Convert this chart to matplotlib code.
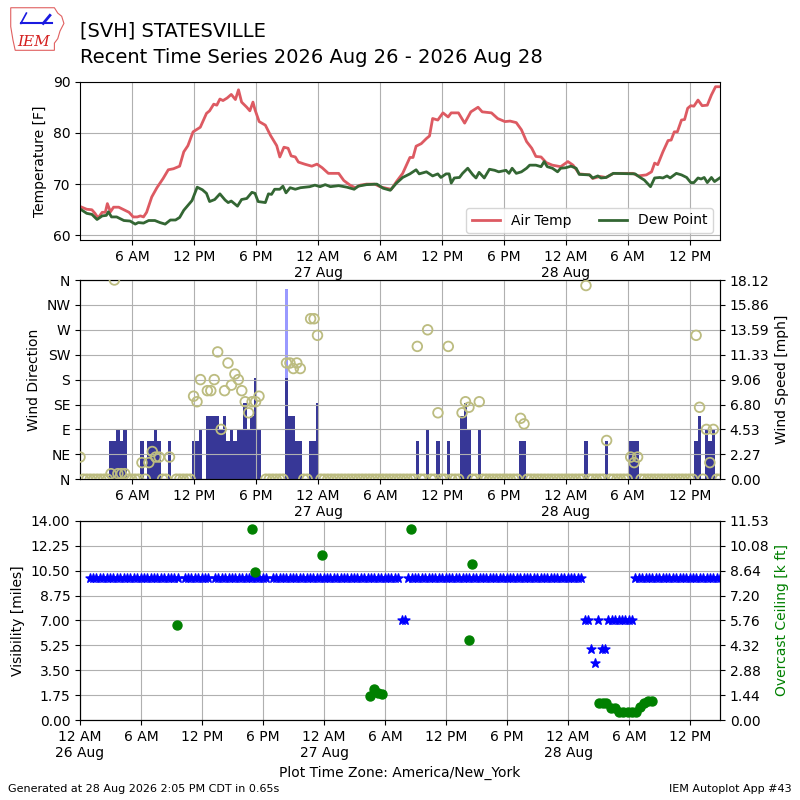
import numpy as np
import matplotlib
matplotlib.use("Agg")
import matplotlib.pyplot as plt
from matplotlib.patches import Polygon

nan = np.nan

# ---------------- data (hours since 2026-08-26 00:00 America/New_York) -------------
temp_hours = [1.0, 1.6, 2.1, 2.4, 2.7, 3.1, 3.4, 3.6, 3.9, 4.2, 4.7, 5.2, 5.7, 6.1, 6.5,
              6.8, 7.1, 7.4, 7.9, 8.4, 9.0, 9.5, 10.0, 10.6, 11.0, 11.4, 11.9, 12.6, 13.2,
              13.5, 13.9, 14.2, 14.5, 14.8, 15.2, 15.6, 16.0, 16.3, 16.6, 17.1, 17.4, 17.7,
              17.9, 18.3, 18.9, 19.4, 20.0, 20.3, 20.7, 21.1, 21.4, 21.8, 22.1, 22.7, 23.4,
              23.9, 24.4, 25.0, 26.0, 26.5, 27.1, 27.6, 28.1, 28.7, 29.5, 30.0, 30.6, 31.1,
              31.6, 32.2, 32.9, 33.2, 33.5, 34.0, 34.5, 34.8, 35.1, 35.6, 36.1, 36.6, 36.9,
              37.6, 38.2, 38.8, 39.5, 39.9, 40.8, 41.4, 42.1, 42.6, 43.2, 43.7, 44.2, 44.7,
              45.1, 45.6, 46.1, 46.7, 47.5, 48.2, 48.7, 49.3, 50.3, 50.6, 51.3, 51.9, 52.6,
              54.5, 55.0, 55.8, 56.3, 56.6, 56.9, 57.4, 57.9, 58.2, 58.5, 58.8, 59.2, 59.5,
              59.8, 60.1, 60.4, 60.8, 61.2, 61.7, 62.1, 62.5, 62.9]
temp_f = [65.6, 65.1, 65.0, 64.3, 63.4, 64.5, 64.5, 66.2, 64.6, 65.5, 65.5, 65.0, 64.5, 63.6, 63.6,
          63.8, 63.6, 64.5, 67.5, 69.3, 71.1, 72.8, 73.0, 73.5, 76.3, 77.5, 80.2, 81.1, 83.8,
          84.3, 85.6, 85.4, 86.6, 86.3, 86.8, 87.5, 86.5, 88.4, 86.0, 85.0, 84.3, 86.0,
          84.5, 82.2, 81.5, 79.5, 77.5, 75.3, 77.2, 77.0, 75.5, 75.3, 74.3, 73.9, 73.5,
          73.9, 73.2, 72.1, 72.1, 70.7, 69.8, 69.3, 69.8, 70.0, 70.0, 69.5, 69.2, 69.0,
          70.5, 72.1, 75.2, 75.2, 77.4, 77.9, 78.9, 79.4, 82.8, 82.5, 83.9, 83.1, 83.9,
          83.9, 81.9, 84.1, 85.0, 84.1, 83.9, 82.8, 82.2, 82.3, 82.0, 80.6, 78.3, 77.0,
          75.4, 75.3, 74.2, 73.7, 73.4, 74.4, 73.7, 72.0, 71.8, 71.1, 71.5, 71.3, 72.1,
          72.1, 71.6, 71.8, 72.4, 74.1, 73.8, 76.3, 78.5, 78.6, 80.2, 80.2, 82.5, 82.6,
          84.8, 85.3, 85.2, 86.4, 85.3, 85.4, 87.4, 89.0, 89.0]

dew_hours = [1.0, 1.6, 2.1, 2.6, 3.1, 3.5, 3.7, 4.0, 4.5, 5.2, 5.8, 6.3, 6.6, 7.1, 7.6, 8.2,
             8.7, 9.2, 9.7, 10.2, 10.6, 11.0, 11.5, 11.8, 12.3, 12.8, 13.2, 13.5, 14.0, 14.5,
             15.0, 15.3, 15.6, 16.2, 16.6, 17.1, 17.6, 17.9, 18.2, 18.9, 19.2, 19.5, 19.8,
             20.3, 20.6, 20.9, 21.3, 21.8, 22.3, 23.2, 23.7, 24.2, 24.7, 25.2, 26.0, 26.8,
             27.5, 27.9, 28.7, 29.7, 30.3, 31.0, 31.6, 32.2, 32.9, 33.5, 33.8, 34.5, 35.1,
             35.6, 35.9, 36.4, 36.7, 36.9, 37.2, 37.7, 38.0, 38.5, 39.0, 39.3, 39.6, 40.1,
             40.6, 41.1, 41.5, 42.2, 42.5, 42.8, 43.2, 43.7, 44.2, 44.5, 45.1, 45.6, 45.9,
             46.2, 46.7, 47.2, 47.5, 48.0, 48.5, 49.0, 49.3, 50.3, 50.6, 51.1, 51.4, 51.9,
             52.6, 54.7, 55.2, 55.6, 56.2, 56.6, 57.1, 57.4, 57.8, 58.1, 58.7, 59.2, 59.7,
             60.1, 60.4, 60.8, 61.1, 61.4, 61.7, 62.1, 62.4, 62.9]
dewp_f = [65.1, 64.3, 64.1, 63.1, 63.8, 63.9, 64.6, 63.6, 63.6, 62.9, 62.8, 62.2, 62.5, 62.4, 62.9, 62.9,
          62.5, 62.2, 63.0, 63.0, 63.5, 64.9, 66.1, 66.8, 69.4, 68.9, 68.2, 66.6, 67.0, 68.1,
          66.9, 66.4, 66.7, 65.7, 67.0, 67.2, 68.4, 68.2, 66.6, 66.4, 68.1, 68.0, 69.0,
          69.0, 69.6, 68.3, 69.3, 69.0, 69.3, 69.5, 69.8, 69.5, 69.9, 69.5, 69.7, 69.4,
          69.0, 69.6, 69.9, 70.0, 69.2, 68.8, 70.2, 71.3, 72.0, 72.8, 72.0, 72.4, 71.6,
          72.0, 71.3, 72.0, 72.0, 70.2, 71.2, 71.3, 72.1, 73.1, 71.8, 71.2, 72.3, 71.2,
          72.9, 72.7, 72.4, 72.7, 72.1, 73.1, 72.1, 72.4, 73.1, 73.7, 73.7, 73.4, 74.4,
          73.4, 73.1, 72.4, 73.1, 73.2, 73.5, 73.1, 71.9, 71.8, 71.2, 71.6, 71.2, 71.3,
          72.1, 72.0, 71.3, 70.8, 69.5, 71.2, 71.3, 71.2, 71.6, 71.2, 72.1, 71.8, 71.3,
          70.3, 70.3, 71.2, 71.0, 71.3, 70.3, 71.3, 70.5, 71.2]

# 20-minute observations, first at 00:57 Aug 26
obs_first_hour = 0.95
obs_step_hour = 1.0 / 3.0

wind_dir_deg = [
    40, 0, 0, 0, 0, 0, 0, 0, 0, 10,
    360, 10, 10, 10, 0, 0, 0, 0, 30, 0,
    30, 50, 40, 40, 0, 0, 40, nan, 0, 0,
    0, 0, 0, 150, 140, 180, nan, 160, 160, 180,
    230, 90, 160, 210, 170, 190, 180, 160, 140, 120,
    140, 140, 150, nan, 0, 0, 0, 0, 0, 0,
    210, 210, 200, 210, 200, 0, 0, 290, 290, 260,
    0, 0, 0, 0, 0, 0, 0, 0, 0, 0,
    0, 0, 0, 0, 0, 0, 0, 0, 0, 0,
    0, 0, 0, 0, 0, 0, 0, 0, 240, 0,
    0, 270, 0, 0, 120, 0, 0, 240, 0, 0,
    0, 120, 140, 130, 0, 0, 140, 0, 0, 0,
    0, 0, 0, 0, 0, 0, 0, 0, 110, 100,
    0, 0, 0, 0, 0, 0, 0, 0, 0, 0,
    0, 0, 0, 0, 0, 0, 0, 350, 0, 0,
    0, 0, 0, 70, 0, 0, 0, 0, 0, 0,
    40, 30, 40, 0, 0, 0, 0, 0, 0, 0,
    0, 0, 0, 0, 0, 0, 0, 0, 0, 260,
    130, 0, 90, 30, 90, 0, 0]

wind_speed_kt = [
    0, 0, 0, 0, 0, 0, 0, 0, 0, 3,
    3, 4, 3, 4, 0, 0, 0, 0, 3, 0,
    3, 3, 4, 3, 0, 0, 3, nan, 0, 0,
    0, 0, 0, 3, 3, 4, nan, 5, 5, 5,
    5, 4, 5, 3, 4, 3, 4, 4, 6, 4,
    5, 8, 4, nan, 0, 0, 0, 0, 0, 0,
    8, 5, 5, 3, 3, 0, 0, 3, 3, 6,
    0, 0, 0, 0, 0, 0, 0, 0, 0, 0,
    0, 0, 0, 0, 0, 0, 0, 0, 0, 0,
    0, 0, 0, 0, 0, 0, 0, 0, 3, 0,
    0, 4, 0, 0, 3, 0, 0, 3, 0, 0,
    0, 5, 6, 4, 0, 0, 4, 0, 0, 0,
    0, 0, 0, 0, 0, 0, 0, 0, 3, 3,
    0, 0, 0, 0, 0, 0, 0, 0, 0, 0,
    0, 0, 0, 0, 0, 0, 0, 3, 0, 0,
    0, 0, 0, 3, 0, 0, 0, 0, 0, 0,
    3, 3, 3, 0, 0, 0, 0, 0, 0, 0,
    0, 0, 0, 0, 0, 0, 0, 0, 0, 3,
    5, 0, 4, 3, 4, 0, 0]

gust_obs_index = [60]
gust_kt = [15]

vis_miles = [
    10, 10, 10, 10, 10, 10, 10, 10, 10, 10,
    10, 10, 10, 10, 10, 10, 10, 10, 10, 10,
    10, 10, 10, 10, 10, 10, 10, nan, 10, 10,
    10, 10, 10, 10, 10, 10, nan, 10, 10, 10,
    10, 10, 10, 10, 10, 10, 10, 10, 10, 10,
    10, 10, 10, nan, 10, 10, 10, 10, 10, 10,
    10, 10, 10, 10, 10, 10, 10, 10, 10, 10,
    10, 10, 10, 10, 10, 10, 10, 10, 10, 10,
    10, 10, 10, 10, 10, 10, 10, 10, 10, 10,
    10, 10, 7, 7, 10, 10, 10, 10, 10, 10,
    10, 10, 10, 10, 10, 10, 10, 10, 10, 10,
    10, 10, 10, 10, 10, 10, 10, 10, 10, 10,
    10, 10, 10, 10, 10, 10, 10, 10, 10, 10,
    10, 10, 10, 10, 10, 10, 10, 10, 10, 10,
    10, 10, 10, 10, 10, 10, 7, 7, 5, 4,
    7, 5, 5, 7, 7, 7, 7, 7, 7, 7,
    7, 10, 10, 10, 10, 10, 10, 10, 10, 10,
    10, 10, 10, 10, 10, 10, 10, 10, 10, 10,
    10, 10, 10, 10, 10, 10, 10]

ceil_hours = [9.54, 16.87, 17.17, 23.83, 28.52, 28.87, 29.26, 29.66, 32.55, 38.21, 38.50,
              51.06, 51.39, 51.72, 52.21, 52.64, 53.03, 53.42, 53.85, 54.24, 54.67, 55.06,
              55.49, 55.81, 56.24]
ceil_kft = [5.48, 11.04, 8.54, 9.55, 1.37, 1.79, 1.55, 1.50, 11.04, 4.61, 9.03,
            0.97, 0.97, 0.97, 0.68, 0.68, 0.48, 0.48, 0.48, 0.48, 0.48, 0.77,
            0.97, 1.10, 1.10]

dir_labels = ['N', 'NE', 'E', 'SE', 'S', 'SW', 'W', 'NW', 'N']
KT2MPH = 1.15078

# ---------------- derived ----------------
n_obs = len(vis_miles)
obs_hours = obs_first_hour + np.arange(n_obs) * obs_step_hour
wind_dir = np.array(wind_dir_deg, dtype=float)
speed_mph = np.array(wind_speed_kt, dtype=float) * KT2MPH
gust_hours = obs_hours[gust_obs_index]
gust_mph = np.array(gust_kt, dtype=float) * KT2MPH
vis = np.array(vis_miles, dtype=float)

x_end = obs_hours[-1] - 0.02
BAR_W = 0.34


def tick_label(h):
    hh = int(h) % 24
    day = 26 + int(h) // 24
    if hh == 0:
        return "12 AM\n%d Aug" % day
    return {6: "6 AM", 12: "12 PM", 18: "6 PM"}[hh]


top_ticks = list(range(6, 61, 6))
bot_ticks = list(range(0, 61, 6))

fig = plt.figure(figsize=(8, 8), dpi=100)

# ---------------- header ----------------
fig.text(0.1, 0.954, "[SVH] STATESVILLE", fontsize=14, va='baseline', ha='left')
fig.text(0.1, 0.921, "Recent Time Series 2026 Aug 26 - 2026 Aug 28", fontsize=14,
         va='baseline', ha='left')

logo = fig.add_axes([0.012, 0.936, 0.07, 0.056])
logo.set_xlim(0, 1)
logo.set_ylim(0, 1)
logo.axis('off')
logo.add_patch(Polygon([[0.02, 0.97], [0.80, 0.97], [0.86, 0.85], [0.93, 0.78], [0.97, 0.62],
                        [0.90, 0.45], [0.86, 0.28], [0.80, 0.18], [0.80, 0.02], [0.10, 0.02],
                        [0.06, 0.25], [0.02, 0.55]], closed=True, fill=False,
                       edgecolor='#e06060', lw=0.8))
logo.plot([0.2, 0.75], [0.62, 0.62], color='#1a1ae0', lw=1.5)
logo.plot([0.2, 0.3], [0.62, 0.85], color='#1a1ae0', lw=1.2)
logo.plot([0.6, 0.72], [0.62, 0.8], color='#1a1ae0', lw=2.0)
logo.text(0.42, 0.2, "IEM", color='#d42020', fontsize=11, style='italic',
          family='DejaVu Serif', ha='center', va='center')

# ---------------- top: temperature ----------------
ax1 = fig.add_axes([0.1, 0.7, 0.8, 0.198])
ax1.plot(temp_hours, temp_f, color='#dd5a62', lw=2, label='Air Temp')
ax1.plot(dew_hours, dewp_f, color='#336633', lw=2, label='Dew Point')
ax1.set_ylim(59.1, 90)
ax1.set_yticks([60, 70, 80, 90])
ax1.set_xlim(obs_first_hour, x_end)
ax1.set_xticks(top_ticks)
ax1.set_xticklabels([tick_label(h) for h in top_ticks])
ax1.grid(True)
ax1.set_ylabel("Temperature [F]")
ax1.legend(loc='lower right', ncol=2)

# ---------------- middle: wind ----------------
ax2 = fig.add_axes([0.1, 0.401, 0.8, 0.249])
ax2b = ax2.twinx()
ax2b.bar(gust_hours, gust_mph, width=BAR_W, color='#9999ff')
ok = np.isfinite(speed_mph) & (speed_mph > 0)
ax2b.bar(obs_hours[ok], speed_mph[ok], width=BAR_W, color='#373797')
okd = np.isfinite(wind_dir)
ax2.scatter(obs_hours[okd], wind_dir[okd], s=48, facecolors='none',
            edgecolors='#bcbc80', linewidths=1.3, zorder=3)
ax2.set_zorder(ax2b.get_zorder() + 1)
ax2.patch.set_visible(False)
ax2.set_ylim(0, 360)
ax2.set_yticks(range(0, 361, 45))
ax2.set_yticklabels(dir_labels)
spd_max = 18.1235
ax2b.set_ylim(0, spd_max)
sp_ticks = np.linspace(0, spd_max, 9)
ax2b.set_yticks(sp_ticks)
ax2b.set_yticklabels(["%.2f" % v for v in sp_ticks])
ax2.set_xlim(obs_first_hour, x_end)
ax2.set_xticks(top_ticks)
ax2.set_xticklabels([tick_label(h) for h in top_ticks])
ax2.grid(True)
ax2.set_ylabel("Wind Direction")
ax2b.set_ylabel("Wind Speed [mph]")

# ---------------- bottom: visibility / ceiling ----------------
ax3 = fig.add_axes([0.1, 0.1, 0.8, 0.249])
ax3b = ax3.twinx()
okv = np.isfinite(vis)
ax3.scatter(obs_hours[okv], vis[okv], marker='*', s=45, color='b', zorder=3)
ax3b.scatter(ceil_hours, ceil_kft, marker='o', s=42, color='g')
ax3.set_ylim(0, 14)
v_ticks = np.linspace(0, 14, 9)
ax3.set_yticks(v_ticks)
ax3.set_yticklabels(["%.2f" % v for v in v_ticks])
c_max = 11.5255
ax3b.set_ylim(0, c_max)
c_ticks = np.linspace(0, c_max, 9)
ax3b.set_yticks(c_ticks)
ax3b.set_yticklabels(["%.2f" % v for v in c_ticks])
ax3.set_xlim(0, x_end)
ax3.set_xticks(bot_ticks)
ax3.set_xticklabels([tick_label(h) for h in bot_ticks])
ax3.grid(True)
ax3.set_ylabel("Visibility [miles]")
ax3b.set_ylabel("Overcast Ceiling [k ft]", color='g')
ax3.set_xlabel("Plot Time Zone: America/New_York")

# ---------------- footer ----------------
fig.text(0.01, 0.008, "Generated at 28 Aug 2026 2:05 PM CDT in 0.65s", fontsize=8,
         ha='left', va='bottom')
fig.text(0.99, 0.008, "IEM Autoplot App #43", fontsize=8, ha='right', va='bottom')

fig.savefig("out.png", dpi=100)
